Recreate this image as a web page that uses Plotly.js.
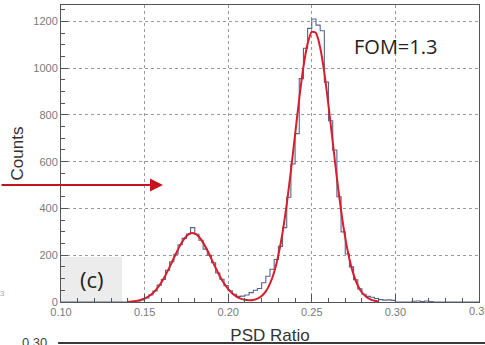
<!DOCTYPE html>
<html>
<head>
<meta charset="utf-8">
<script src="https://cdn.plot.ly/plotly-3.0.1.min.js"></script>
<style>
  html, body { margin: 0; padding: 0; background: #ffffff; }
  #chart { width: 485px; height: 345px; }
</style>
</head>
<body>
<div id="chart"></div>
<script>
// ---- Data ----
// Histogram: 100 bins of width 0.0025 from 0.100 to 0.350 (PSD ratio)
const binStart = 0.10;
const binWidth = 0.0025;
const counts = [
  0, 0, 0, 0, 0, 0, 0, 0, 0, 0,          // 0.100 - 0.125
  0, 0, 0, 0, 0, 0, 1, 3, 5, 9,          // 0.125 - 0.150
  17, 30, 47, 72, 96, 136, 172, 204, 245, 272,   // 0.150 - 0.175
  291, 318, 290, 264, 226, 200, 168, 124, 97, 70,  // 0.175 - 0.200
  48, 33, 24, 25, 30, 40, 50, 58, 82, 110,         // 0.200 - 0.225
  140, 182, 238, 318, 448, 590, 720, 955, 1085, 1170, // 0.225 - 0.250
  1210, 1184, 1160, 940, 775, 650, 450, 300, 205, 150, // 0.250 - 0.275
  95, 56, 33, 24, 20, 15, 10, 8, 9, 7,             // 0.275 - 0.300
  0, 0, 0, 0, 3, 4, 2, 4, 2, 0,                    // 0.300 - 0.325
  0, 0, 0, 0, 0, 0, 0, 0, 0, 0                     // 0.325 - 0.350
];

// Fitted curve (double peak)
const fitX = [
  0.1400, 0.1425, 0.1450, 0.1475, 0.1500, 0.1525, 0.1550, 0.1575, 0.1600, 0.1625,
  0.1650, 0.1675, 0.1700, 0.1725, 0.1750, 0.1775, 0.1800, 0.1825, 0.1850, 0.1875,
  0.1900, 0.1925, 0.1950, 0.1975, 0.2000, 0.2025, 0.2050, 0.2075, 0.2100, 0.2125,
  0.2150, 0.2175, 0.2200, 0.2225, 0.2250, 0.2275, 0.2300, 0.2325, 0.2350, 0.2375,
  0.2400, 0.2425, 0.2450, 0.2475, 0.2500, 0.2525, 0.2550, 0.2575, 0.2600, 0.2625,
  0.2650, 0.2675, 0.2700, 0.2725, 0.2750, 0.2775, 0.2800, 0.2825, 0.2850, 0.2875,
  0.2900
];
const fitY = [
  1, 2.5, 4.8, 8.6, 15, 24.5, 38.6, 58, 83.5, 114.6,
  150, 188, 225, 257.5, 281.4, 293.7, 292.9, 279, 254, 221,
  183.6, 145.7, 110.5, 80, 55.5, 36.7, 23.4, 14.6, 9.5, 7.7,
  8.9, 14.5, 25.7, 45.6, 78.5, 128.5, 200, 296.6, 418, 561,
  716, 870, 1005, 1105, 1155, 1150, 1088, 980, 840, 685,
  531, 392, 275, 184, 117, 70.7, 40.6, 22.3, 11.6, 5.7,
  2.7
];

// Axis ticks
const xTickVals = [0.10, 0.15, 0.20, 0.25, 0.30];
const xTickText = ['0.10', '0.15', '0.20', '0.25', '0.30'];
const xLastTick = 0.35;
const xLastTickText = '0.35';
const yTickVals = [0, 200, 400, 600, 800, 1000, 1200];
const yTickText = ['0', '200', '400', '600', '800', '1000', '1200'];

// ---- Build step histogram from bins ----
const histX = [];
const histY = [];
for (let i = 0; i < counts.length; i++) {
  histX.push(binStart + i * binWidth);
  histY.push(counts[i]);
}
histX.push(binStart + counts.length * binWidth);
histY.push(counts[counts.length - 1]);

const traces = [
  {
    type: 'scatter', mode: 'lines',
    x: histX, y: histY,
    line: { shape: 'hv', color: '#56668a', width: 1.1 },
    hoverinfo: 'skip', showlegend: false
  },
  {
    type: 'scatter', mode: 'lines',
    x: fitX, y: fitY,
    line: { shape: 'spline', smoothing: 0.6, color: '#d81e2c', width: 2 },
    hoverinfo: 'skip', showlegend: false
  }
];

const tickFont = { family: 'Liberation Sans, Arial, sans-serif', size: 11, color: '#7a7a7a' };
const titleFont = { family: 'Liberation Sans, Arial, sans-serif', size: 17, color: '#333333' };

const layout = {
  width: 485, height: 345,
  margin: { l: 61, r: 6, t: 5, b: 43 },
  paper_bgcolor: '#ffffff',
  plot_bgcolor: '#ffffff',
  showlegend: false,
  xaxis: {
    range: [0.10, 0.35],
    tickvals: xTickVals, ticktext: xTickText,
    ticks: 'inside', ticklen: 8, tickcolor: '#555555', tickwidth: 1,
    minor: { dtick: 0.01, tick0: 0.10, ticks: 'inside', ticklen: 4, tickcolor: '#555555', showgrid: false },
    showgrid: true, gridcolor: '#9a9a9a', gridwidth: 1, griddash: 'dot',
    showline: true, linecolor: '#555555', linewidth: 1, mirror: true,
    zeroline: false,
    tickfont: tickFont,
    title: { text: 'PSD Ratio', font: titleFont, standoff: 11 },
    automargin: false
  },
  yaxis: {
    range: [0, 1270],
    tickvals: yTickVals, ticktext: yTickText,
    ticks: 'inside', ticklen: 7, tickcolor: '#555555', tickwidth: 1,
    minor: { dtick: 50, tick0: 0, ticks: 'inside', ticklen: 4, tickcolor: '#555555', showgrid: false },
    showgrid: true, gridcolor: '#9a9a9a', gridwidth: 1, griddash: 'dot',
    showline: true, linecolor: '#555555', linewidth: 1, mirror: true,
    zeroline: false,
    tickfont: tickFont,
    title: { text: 'Counts', font: titleFont, standoff: 5 },
    automargin: false
  },
  shapes: [
    // gray label box behind "(c)"
    { type: 'rect', xref: 'x', yref: 'y', x0: 0.10, x1: 0.1365, y0: 0, y1: 192,
      fillcolor: '#ececec', line: { width: 0 }, layer: 'below' },
    // the 0.30 gridline/tick exists; add top-edge vertical gridline at 0.35 handled by frame
    // line from the next panel, cut at the bottom of the picture
    { type: 'line', xref: 'paper', yref: 'paper', x0: -0.007, x1: 1.02, y0: -0.138, y1: -0.138,
      line: { color: '#3a3a3a', width: 2 } }
  ],
  annotations: [
    { xref: 'paper', yref: 'paper', x: 0.80, y: 0.86, text: 'FOM=1.3', showarrow: false,
      font: { family: 'Open Sans, Liberation Sans, sans-serif', size: 20, color: '#222222' },
      xanchor: 'center', yanchor: 'middle' },
    { xref: 'paper', yref: 'paper', x: 0.074, y: 0.077, text: '(c)', showarrow: false,
      font: { family: 'Open Sans, Liberation Sans, sans-serif', size: 22, color: '#222222' },
      xanchor: 'center', yanchor: 'middle' },
    // last x tick label, cut by the right edge as in the reference
    { xref: 'x', yref: 'paper', x: xLastTick, y: -0.031, text: xLastTickText, showarrow: false,
      font: tickFont, xanchor: 'center', yanchor: 'middle' },
    // red arrow pointing into the plot
    { xref: 'paper', yref: 'paper', x: 0.244, y: 0.394, ax: -166, ay: 0,
      text: '', showarrow: true, arrowhead: 2, arrowsize: 1.3, arrowwidth: 2, arrowcolor: '#c4141c' },
    // partial label from the panel below
    { xref: 'paper', yref: 'paper', x: -0.063, y: -0.135, text: '0.30', showarrow: false,
      font: { family: 'Liberation Sans, Arial, sans-serif', size: 13, color: '#444444' },
      xanchor: 'center', yanchor: 'middle' },
    { xref: 'paper', yref: 'paper', x: -0.14, y: 0.03, text: '3', showarrow: false,
      font: { family: 'Liberation Sans, Arial, sans-serif', size: 8, color: '#aaaaaa' },
      xanchor: 'center', yanchor: 'middle' }
  ]
};

Plotly.newPlot('chart', traces, layout, { staticPlot: true, displayModeBar: false });
</script>
</body>
</html>
